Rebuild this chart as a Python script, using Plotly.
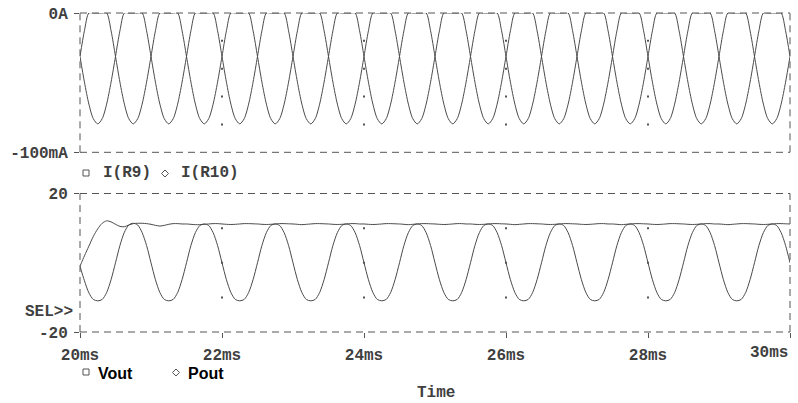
import plotly.graph_objects as go

# ---------------- data ----------------
T0 = 20.0          # ms, first sample
DT = 0.0625        # ms, sample spacing

i_r9 = [
    -31.2, -49.7, -65.4, -75.9, -79.6, -75.9, -65.4, -49.7, -31.2, -12.7, 0, 0, 0, 0, 0, -12.7,
    -31.2, -49.7, -65.4, -75.9, -79.6, -75.9, -65.4, -49.7, -31.2, -12.7, 0, 0, 0, 0, 0, -12.7,
    -31.2, -49.7, -65.4, -75.9, -79.6, -75.9, -65.4, -49.7, -31.2, -12.7, 0, 0, 0, 0, 0, -12.7,
    -31.2, -49.7, -65.4, -75.9, -79.6, -75.9, -65.4, -49.7, -31.2, -12.7, 0, 0, 0, 0, 0, -12.7,
    -31.2, -49.7, -65.4, -75.9, -79.6, -75.9, -65.4, -49.7, -31.2, -12.7, 0, 0, 0, 0, 0, -12.7,
    -31.2, -49.7, -65.4, -75.9, -79.6, -75.9, -65.4, -49.7, -31.2, -12.7, 0, 0, 0, 0, 0, -12.7,
    -31.2, -49.7, -65.4, -75.9, -79.6, -75.9, -65.4, -49.7, -31.2, -12.7, 0, 0, 0, 0, 0, -12.7,
    -31.2, -49.7, -65.4, -75.9, -79.6, -75.9, -65.4, -49.7, -31.2, -12.7, 0, 0, 0, 0, 0, -12.7,
    -31.2, -49.7, -65.4, -75.9, -79.6, -75.9, -65.4, -49.7, -31.2, -12.7, 0, 0, 0, 0, 0, -12.7,
    -31.2, -49.7, -65.4, -75.9, -79.6, -75.9, -65.4, -49.7, -31.2, -12.7, 0, 0, 0, 0, 0, -12.7,
    -31.2,
]

i_r10 = [
    -31.2, -12.7, 0, 0, 0, 0, 0, -12.7, -31.2, -49.7, -65.4, -75.9, -79.6, -75.9, -65.4, -49.7,
    -31.2, -12.7, 0, 0, 0, 0, 0, -12.7, -31.2, -49.7, -65.4, -75.9, -79.6, -75.9, -65.4, -49.7,
    -31.2, -12.7, 0, 0, 0, 0, 0, -12.7, -31.2, -49.7, -65.4, -75.9, -79.6, -75.9, -65.4, -49.7,
    -31.2, -12.7, 0, 0, 0, 0, 0, -12.7, -31.2, -49.7, -65.4, -75.9, -79.6, -75.9, -65.4, -49.7,
    -31.2, -12.7, 0, 0, 0, 0, 0, -12.7, -31.2, -49.7, -65.4, -75.9, -79.6, -75.9, -65.4, -49.7,
    -31.2, -12.7, 0, 0, 0, 0, 0, -12.7, -31.2, -49.7, -65.4, -75.9, -79.6, -75.9, -65.4, -49.7,
    -31.2, -12.7, 0, 0, 0, 0, 0, -12.7, -31.2, -49.7, -65.4, -75.9, -79.6, -75.9, -65.4, -49.7,
    -31.2, -12.7, 0, 0, 0, 0, 0, -12.7, -31.2, -49.7, -65.4, -75.9, -79.6, -75.9, -65.4, -49.7,
    -31.2, -12.7, 0, 0, 0, 0, 0, -12.7, -31.2, -49.7, -65.4, -75.9, -79.6, -75.9, -65.4, -49.7,
    -31.2, -12.7, 0, 0, 0, 0, 0, -12.7, -31.2, -49.7, -65.4, -75.9, -79.6, -75.9, -65.4, -49.7,
    -31.2,
]

vout = [
    -1.0, -5.2, -8.7, -10.6, -11.0, -10.6, -8.6, -4.9, 0, 5.0, 8.8, 10.9, 11.4, 10.9, 8.7, 5.0,
    0, -4.9, -8.6, -10.6, -11.0, -10.6, -8.6, -4.9, 0, 5.0, 8.7, 10.75, 11.2, 10.75, 8.7, 5.0,
    0, -4.9, -8.6, -10.6, -11.0, -10.6, -8.6, -4.9, 0, 5.0, 8.7, 10.75, 11.2, 10.75, 8.7, 5.0,
    0, -4.9, -8.6, -10.6, -11.0, -10.6, -8.6, -4.9, 0, 5.0, 8.7, 10.75, 11.2, 10.75, 8.7, 5.0,
    0, -4.9, -8.6, -10.6, -11.0, -10.6, -8.6, -4.9, 0, 5.0, 8.7, 10.75, 11.2, 10.75, 8.7, 5.0,
    0, -4.9, -8.6, -10.6, -11.0, -10.6, -8.6, -4.9, 0, 5.0, 8.7, 10.75, 11.2, 10.75, 8.7, 5.0,
    0, -4.9, -8.6, -10.6, -11.0, -10.6, -8.6, -4.9, 0, 5.0, 8.7, 10.75, 11.2, 10.75, 8.7, 5.0,
    0, -4.9, -8.6, -10.6, -11.0, -10.6, -8.6, -4.9, 0, 5.0, 8.7, 10.75, 11.2, 10.75, 8.7, 5.0,
    0, -4.9, -8.6, -10.6, -11.0, -10.6, -8.6, -4.9, 0, 5.0, 8.7, 10.75, 11.2, 10.75, 8.7, 5.0,
    0, -4.9, -8.6, -10.6, -11.0, -10.6, -8.6, -4.9, 0, 5.0, 8.7, 10.75, 11.2, 10.75, 8.7, 5.0,
    0,
]

pout = [
    -1.0, 2.0, 4.8, 7.6, 9.8, 11.4, 12.1, 11.8, 11.1, 10.5, 10.4, 10.9, 11.3, 11.4, 11.4, 11.3,
    11.1, 10.8, 10.6, 10.8, 11.1, 11.3, 11.3, 11.2, 11.2, 11.1, 11.0, 11.0, 11.1, 11.2, 11.3, 11.3,
    11.2, 11.1, 11.05, 11.1, 11.2, 11.3, 11.3, 11.25, 11.2, 11.1, 11.05, 11.1, 11.2, 11.3, 11.3, 11.25,
    11.2, 11.1, 11.0, 11.1, 11.2, 11.3, 11.3, 11.25, 11.2, 11.1, 11.05, 11.1, 11.2, 11.3, 11.3, 11.2,
    11.2, 11.1, 11.05, 11.1, 11.2, 11.3, 11.3, 11.25, 11.2, 11.1, 11.0, 11.1, 11.2, 11.3, 11.3, 11.25,
    11.2, 11.1, 11.05, 11.1, 11.2, 11.3, 11.3, 11.2, 11.2, 11.1, 11.05, 11.1, 11.2, 11.3, 11.3, 11.25,
    11.2, 11.1, 11.0, 11.1, 11.2, 11.3, 11.3, 11.25, 11.2, 11.1, 11.05, 11.1, 11.2, 11.3, 11.3, 11.25,
    11.2, 11.1, 11.05, 11.1, 11.2, 11.3, 11.3, 11.2, 11.2, 11.1, 11.0, 11.1, 11.2, 11.3, 11.3, 11.25,
    11.2, 11.1, 11.05, 11.1, 11.2, 11.3, 11.3, 11.25, 11.2, 11.1, 11.05, 11.1, 11.2, 11.3, 11.3, 11.2,
    11.2, 11.1, 11.0, 11.1, 11.2, 11.3, 11.3, 11.25, 11.2, 11.1, 11.05, 11.1, 11.2, 11.3, 11.3, 11.25,
    11.2,
]

x_tickvals = [20, 22, 24, 26, 28, 30]
x_ticktext = ["20ms", "22ms", "24ms", "26ms", "28ms", "30ms"]
top_tickvals = [0, -100]
top_ticktext = ["0A", "-100mA"]
bot_tickvals = [20, -20]
bot_ticktext = ["20", "-20"]
grid_x = [22, 24, 26, 28]
top_grid_y = [-20, -40, -60, -80]
bot_grid_y = [10, 0, -10]

# ---------------- styling ----------------
W, H = 798, 403
ML, MR, MT, MB = 80, 8, 13, 71
LINE = "#4a4a4a"
FRAME = "#555555"
TXT = "#404040"
MONO = "Liberation Mono"

def px(x):
    return (x - ML) / (W - ML - MR)

def py(y):
    return (H - MB - y) / (H - MT - MB)

top_dom = [py(152.3), 1.0]
bot_dom = [0.0, py(193.5)]

fig = go.Figure()
common = dict(x0=T0, dx=DT, mode="lines", line=dict(color=LINE, width=1, shape="spline", smoothing=0.8),
              showlegend=False, hoverinfo="skip")
fig.add_trace(go.Scatter(y=i_r9, xaxis="x", yaxis="y", name="I(R9)", **common))
fig.add_trace(go.Scatter(y=i_r10, xaxis="x", yaxis="y", name="I(R10)", **common))
fig.add_trace(go.Scatter(y=vout, xaxis="x2", yaxis="y2", name="Vout", **common))
fig.add_trace(go.Scatter(y=pout, xaxis="x2", yaxis="y2", name="Pout", **common))

# sparse grid dots at tick intersections
fig.add_trace(go.Scatter(x=[gx for gx in grid_x for _ in top_grid_y],
                         y=[gy for _ in grid_x for gy in top_grid_y],
                         xaxis="x", yaxis="y", mode="markers",
                         marker=dict(symbol="square", size=2, color=FRAME, line=dict(width=0)),
                         showlegend=False, hoverinfo="skip"))
fig.add_trace(go.Scatter(x=[gx for gx in grid_x for _ in bot_grid_y],
                         y=[gy for _ in grid_x for gy in bot_grid_y],
                         xaxis="x2", yaxis="y2", mode="markers",
                         marker=dict(symbol="square", size=2, color=FRAME, line=dict(width=0)),
                         showlegend=False, hoverinfo="skip"))

tickfont = dict(family=MONO, size=16, color=TXT, weight="bold")
mono_font = dict(family=MONO, size=16, color=TXT, weight="bold")

fig.update_layout(
    width=W, height=H,
    margin=dict(l=ML, r=MR, t=MT, b=MB, pad=0, autoexpand=False),
    paper_bgcolor="white", plot_bgcolor="white",
    xaxis=dict(domain=[0, 1], range=[20, 30], anchor="y", showticklabels=False, ticks="",
               showgrid=False, zeroline=False, showline=False, automargin=False),
    yaxis=dict(domain=top_dom, range=[-100, 0], tickvals=top_tickvals, ticktext=top_ticktext,
               ticks="outside", ticklen=5, tickcolor=FRAME, tickwidth=1, showgrid=False,
               zeroline=False, showline=False, tickfont=tickfont, ticklabelstandoff=3, automargin=False),
    xaxis2=dict(domain=[0, 1], range=[20, 30], anchor="y2", tickvals=x_tickvals,
                ticktext=x_ticktext[:-1] + [""],
                ticks="outside", ticklen=5, tickcolor=FRAME, tickwidth=1, showgrid=False,
                zeroline=False, showline=False, tickfont=tickfont, ticklabelstandoff=3, automargin=False),
    yaxis2=dict(domain=bot_dom, range=[-20, 20], anchor="x2", tickvals=bot_tickvals, ticktext=bot_ticktext,
                ticks="outside", ticklen=5, tickcolor=FRAME, tickwidth=1, showgrid=False,
                zeroline=False, showline=False, tickfont=tickfont, ticklabelstandoff=3, automargin=False),
)

dash = "7px,5px"
shapes = []
for y0, y1 in (top_dom, bot_dom):
    for yy in (y0, y1):
        shapes.append(dict(type="line", xref="paper", yref="paper", x0=0, x1=1, y0=yy, y1=yy,
                           line=dict(color=FRAME, width=1, dash=dash), layer="above"))
    for xx in (0, 1):
        shapes.append(dict(type="line", xref="paper", yref="paper", x0=xx, x1=xx, y0=y0, y1=y1,
                           line=dict(color=FRAME, width=1, dash=dash), layer="above"))

def square(x0, y0, x1, y1):
    return dict(type="rect", xref="paper", yref="paper", x0=px(x0), x1=px(x1), y0=py(y1), y1=py(y0),
                line=dict(color=FRAME, width=1), fillcolor="rgba(0,0,0,0)")

def diamond(cx, cy, r):
    pts = [(cx, cy - r), (cx + r, cy), (cx, cy + r), (cx - r, cy)]
    path = "M " + " L ".join(f"{px(a):.5f},{py(b):.5f}" for a, b in pts) + " Z"
    return dict(type="path", xref="paper", yref="paper", path=path,
                line=dict(color=FRAME, width=1), fillcolor="rgba(0,0,0,0)")

shapes += [square(83, 170, 89, 176), diamond(165, 173.5, 3.5),
           square(83, 369, 89, 375), diamond(176, 372.5, 3.5)]
fig.update_layout(shapes=shapes)

def ann(text, x, y, xanchor="left", font=None):
    return dict(text=text, xref="paper", yref="paper", x=px(x), y=py(y), xanchor=xanchor,
                yanchor="middle", showarrow=False, font=font or mono_font)

bold_sans = dict(family="Liberation Sans", size=16, color="black", weight="bold")
fig.update_layout(annotations=[
    ann("I(R9)", 101, 173),
    ann("I(R10)", 179, 173),
    ann("SEL>>", 75, 312, xanchor="right"),
    ann("Time", 436, 393, xanchor="center"),
    ann("Vout", 96, 373, font=bold_sans),
    ann("Pout", 186, 373, font=bold_sans),
    # last x tick label is right-aligned to the axis end, as in the reference
    dict(text=x_ticktext[-1], xref="x2", x=x_tickvals[-1], yref="paper", y=py(353),
         xanchor="right", yanchor="middle", showarrow=False, font=mono_font),
])

fig.write_html("out.html", config={"displayModeBar": False},
               post_script="document.body.style.margin='0';document.body.style.overflow='hidden';")
